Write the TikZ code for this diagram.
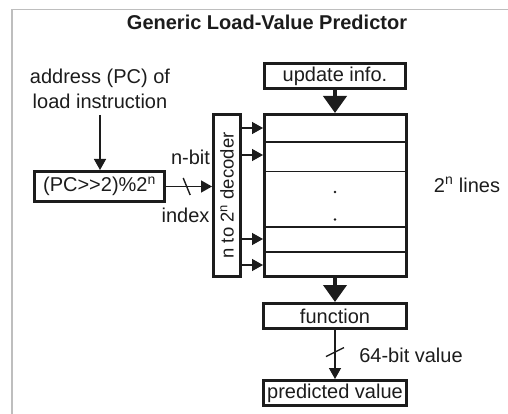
\documentclass[tikz,border=0pt]{standalone}
\usepackage{fontspec}
\setmainfont{Liberation Sans}
\usetikzlibrary{arrows.meta,positioning,calc}
\definecolor{InkBlack}{HTML}{1C1C1C}
\definecolor{FrameGray}{HTML}{BEBEBE}

\begin{document}
\begin{tikzpicture}[x=1pt,y=-1pt,
    every node/.style={font=\fontsize{20}{25}\selectfont,text=InkBlack},
    blk/.style={draw=InkBlack,line width=3pt,inner sep=0pt},
    wire/.style={draw=InkBlack,line width=1.4pt,-{Triangle[length=11pt,width=12pt]}},
    bigwire/.style={draw=InkBlack,line width=4pt,-{Triangle[length=17pt,width=23pt]}},
    rowline/.style={draw=InkBlack,line width=1.3pt}]
  \useasboundingbox (0,0) rectangle (508,414);
  % Marco gris que sale del borde de la página.
  \draw[FrameGray,line width=1.5pt] (12,414) -- (12,9.5) -- (508,9.5);

  \node[font=\fontsize{20}{25}\selectfont\bfseries] (title) at (267,22) {Generic Load-Value Predictor};

  \node[align=center] (addr) at (100,88.5) {address (PC) of\\load instruction};
  \node[blk,minimum width=130,minimum height=30] (idx) at (99.5,186.5) {(PC>{}>2)\%2\textsuperscript{n}};

  \node[blk,minimum width=27,minimum height=162] (dec) at (227,195.5) {};
  \node[rotate=90,font=\fontsize{18.5}{22}\selectfont] (declbl) at (dec.center) {n to 2\textsuperscript{n} decoder};

  \node[blk,minimum width=142,minimum height=162] (table) at (335.5,195.5) {};
  \node[blk,minimum width=141,minimum height=25] (upd) at (335,76) {update info.};
  \node[blk,minimum width=143,minimum height=25] (func) at (335,316) {function};
  \node[blk,minimum width=143,minimum height=25] (pred) at (335,393) {predicted value};

  % Líneas de la tabla y puntos suspensivos.
  \foreach \y in {142,171.5,227,252}
    \draw[rowline] (table.west |- 0,\y) -- (table.east |- 0,\y);
  \fill[InkBlack] (335,192) circle (1.3) (335,219.5) circle (1.3);

  \node (nbit) at (190.5,157) {n-bit};
  \node (index) at (185.5,215) {index};
  \node (lines) at (467,185) {2\textsuperscript{n} lines};
  \node (width) at (411,355) {64-bit value};

  % Conexiones.
  \draw[wire] (addr.south |- 0,115) -- (addr.south |- idx.north);
  \draw[wire] (idx.east) -- (dec.west |- idx.east);
  \draw[InkBlack,line width=1.4pt] ($(idx.east)!0.45!(dec.west |- idx.east)$) ++(-3.5,-8.5) -- ++(7,17);
  \foreach \y in {128,155,239,265}
    \draw[wire] (dec.east |- 0,\y) -- (table.west |- 0,\y);
  \draw[bigwire] (upd.south) -- (table.north -| upd.south);
  \draw[bigwire] (table.south -| func.north) -- (func.north);
  \draw[wire] (func.south) -- (pred.north);
  \draw[InkBlack,line width=1.4pt] ($(func.south)!0.45!(pred.north)$) ++(-9,4.5) -- ++(18,-9);
\end{tikzpicture}
\end{document}
